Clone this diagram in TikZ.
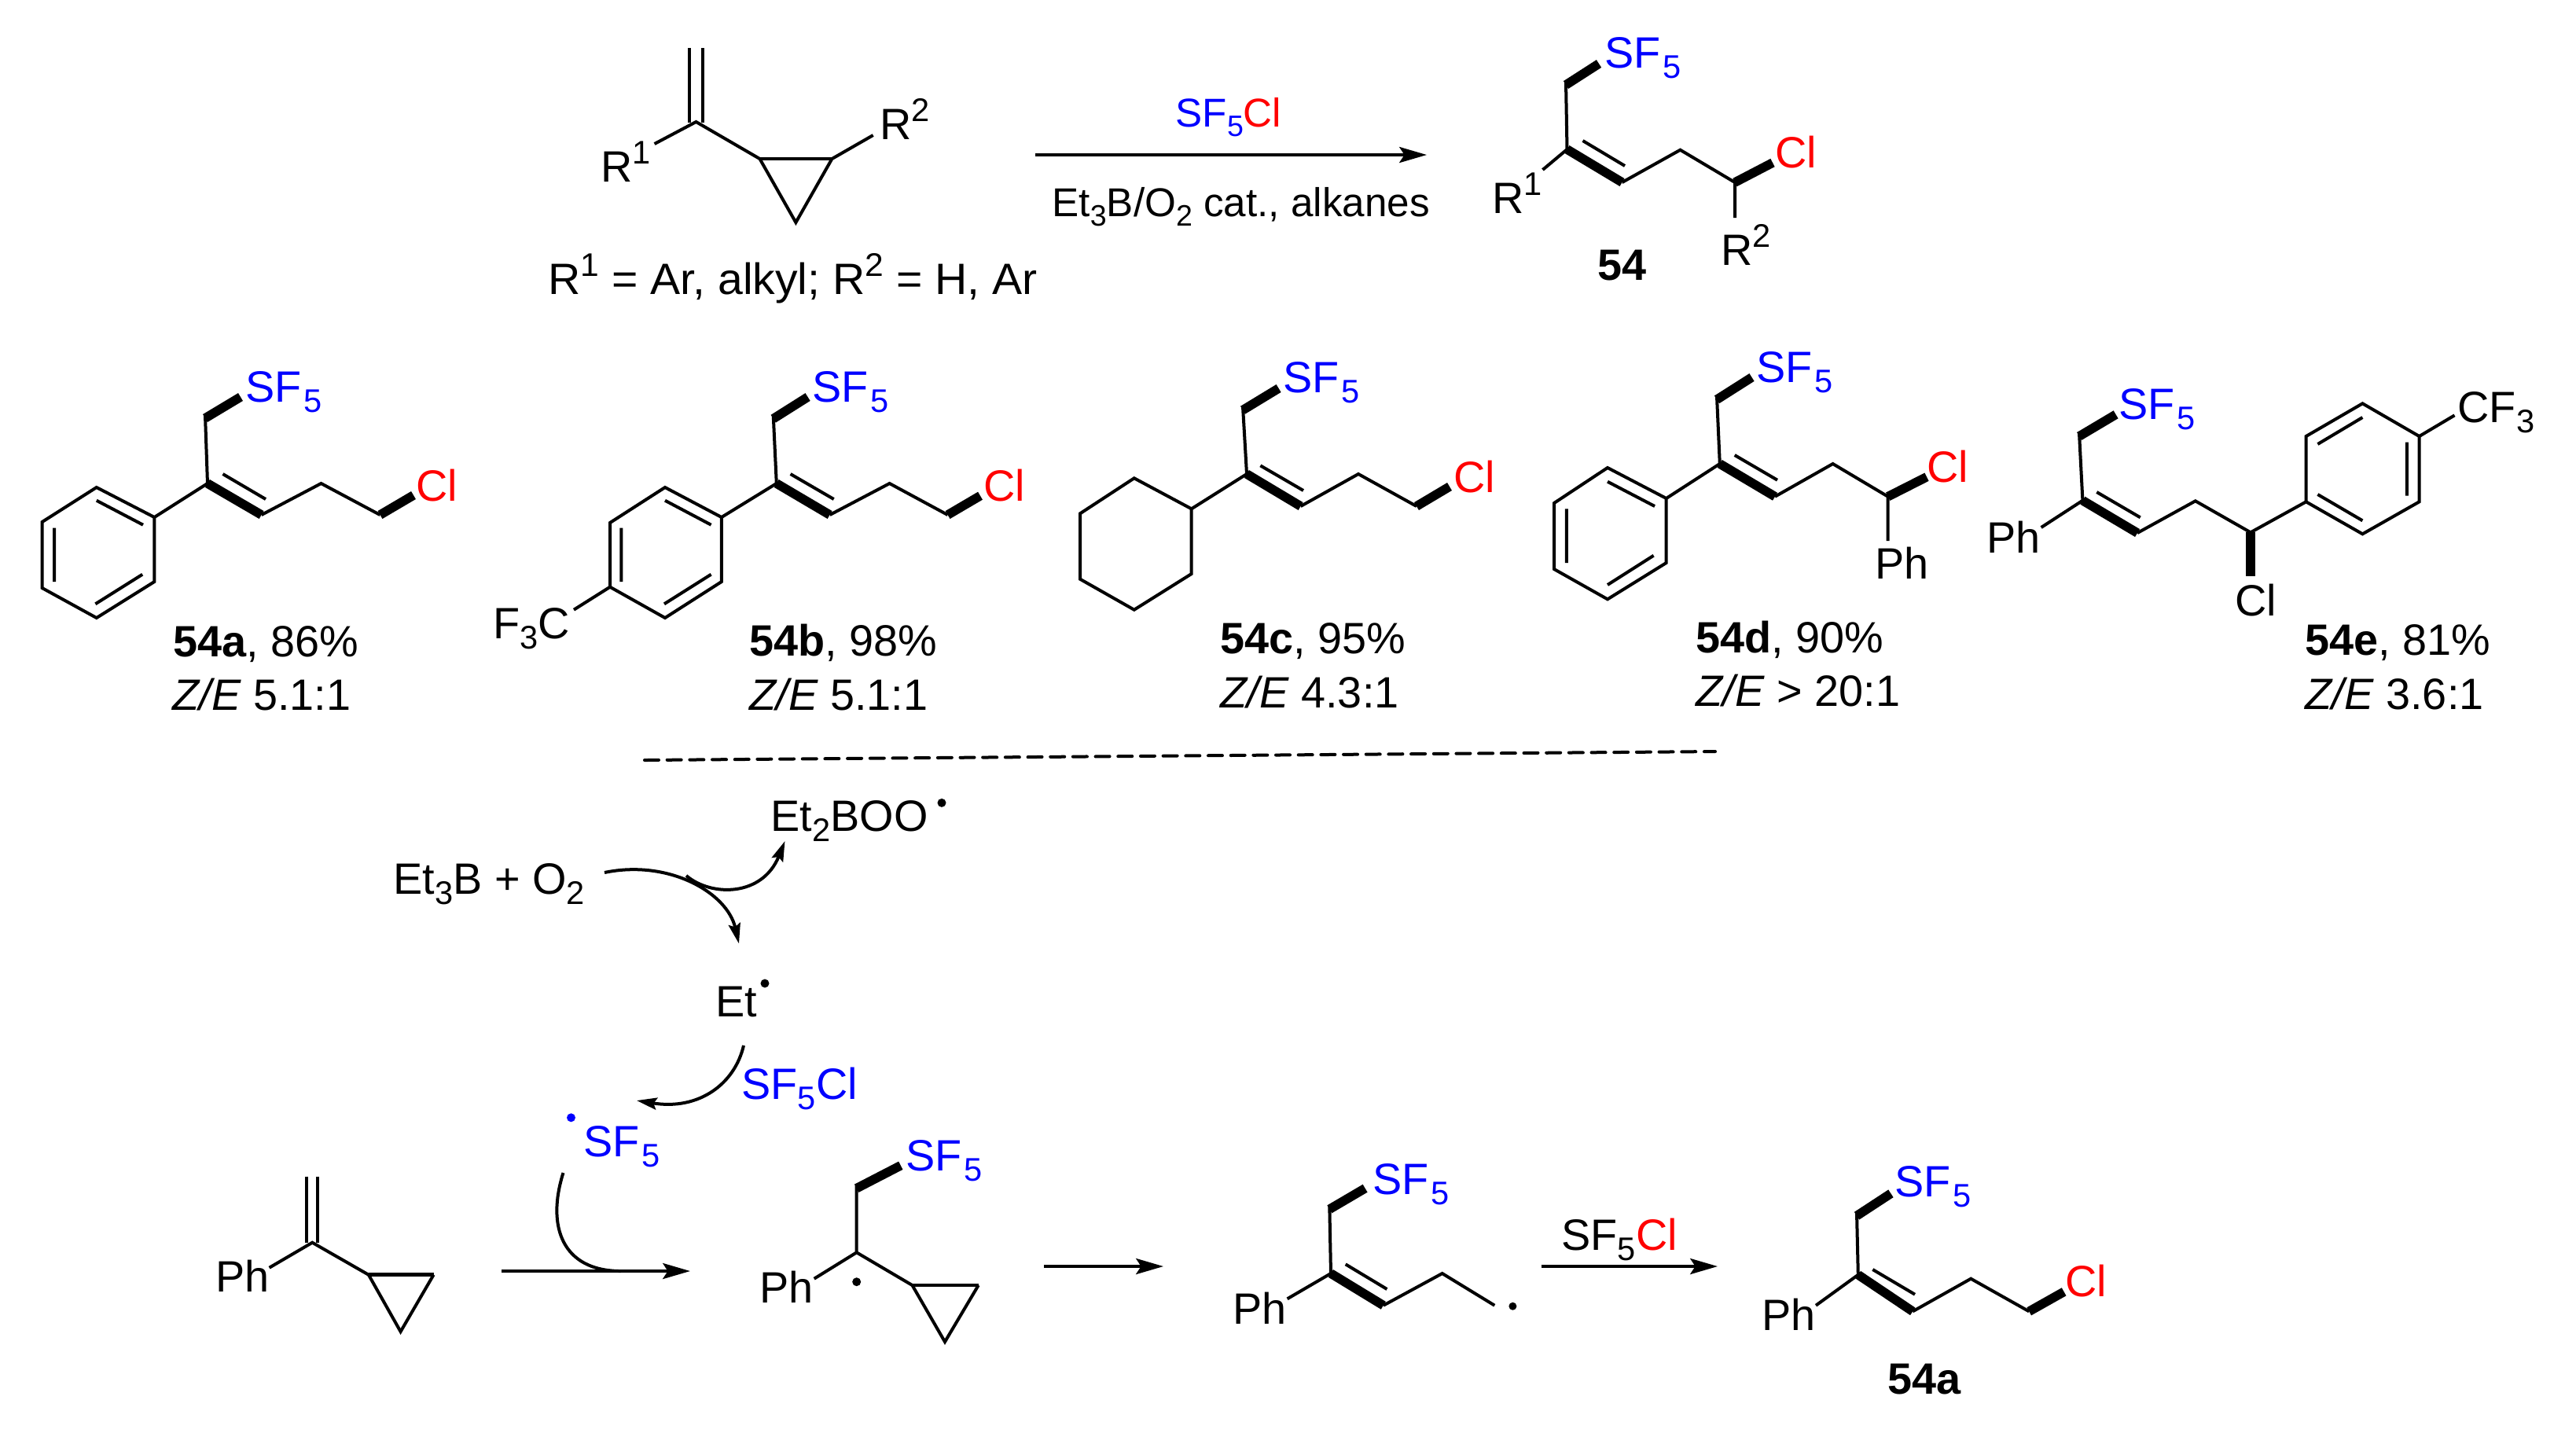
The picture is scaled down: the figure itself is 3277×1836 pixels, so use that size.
\documentclass[tikz,border=0pt]{standalone}
\usepackage{fontspec}
\usepackage{graphicx}
\setmainfont{Liberation Sans}
\usetikzlibrary{arrows.meta}
\definecolor{sfblue}{RGB}{0,0,255}
\definecolor{clred}{RGB}{255,0,0}
\newcommand\subsc[1]{\raisebox{-3.3pt}{\fontsize{10.4}{12}\selectfont #1}}
\newcommand\supsc[1]{\raisebox{5.7pt}{\fontsize{10.4}{12}\selectfont #1}}
\newcommand\subsm[1]{\raisebox{-3pt}{\fontsize{9.4}{11}\selectfont #1}}
\newcommand\sfive{\textcolor{sfblue}{SF\kern.6pt\subsc{5}}}
\newcommand\clr{\textcolor{clred}{Cl}}
\tikzset{
  lab/.style={anchor=base west,inner sep=0pt,outer sep=0pt,xshift=-.6pt,font=\fontsize{13.95}{16}\selectfont},
  smalllab/.style={lab,font=\fontsize{12.8}{15}\selectfont},
  bond/.style={line width=1pt,line join=miter,line cap=butt},
  boldbond/.style={line width=2.9pt,line cap=butt},
  ringtop/.style={line width=1.2pt},
  react/.style={line width=1pt,-{Stealth[length=8.7pt,width=5pt,inset=1.6pt]}},
  curly/.style={line width=1pt,-{Stealth[length=6.4pt,width=3.8pt,inset=1pt]}},
  radical/.style={fill=black,draw=none},
  dashline/.style={line width=1pt,dash pattern=on 4.5pt off 2.67pt,line cap=round}
}
\begin{document}
\begin{tikzpicture}[x=.25pt,y=-.25pt]
\useasboundingbox (0,0) rectangle (3277,1836);
% ---- general reaction
\draw[bond] (877,61)--(877,156) (894,61)--(894,156);
\draw[bond] (832.6,183)--(885.5,155)--(966.5,202)--(1012.4,283)--(1058.4,202)--(1110.7,172);
\draw[ringtop] (966.5,202)--(1058.4,202);
\node[lab] (r1a) at (767,231) {R\supsc{1}};
\node[lab] (r2a) at (1122,177) {R\supsc{2}};
\node[lab] (scope) at (700,374) {\scalebox{1.024}[1]{R\supsc{1} = Ar, alkyl; R\supsc{2} = H, Ar}};
\coordinate (a1s) at (1317,197); \coordinate (a1e) at (1815,197);
\draw[react] (a1s)--(a1e);
\node[smalllab] (a1t) at (1498,161) {\textcolor{sfblue}{SF\subsm{5}}\clr};
\node[smalllab] (a1b) at (1341,275) {Et\subsm{3}B/O\subsm{2} cat., alkanes};
% product 54
\draw[boldbond] (1992,108)--(2034,81);
\draw[bond] (1992,104)--(1993.5,190);
\draw[bond] (1962.5,216)--(1993.5,190);
\draw[boldbond] (1993.5,190)--(2063.5,232);
\draw[bond] (2013.5,179)--(2067,211);
\draw[bond] (2063.5,232)--(2137.5,190.7)--(2207,232)--(2207,277);
\draw[boldbond] (2207,232)--(2255,207);
\node[lab] (p54s) at (2044,86) {\sfive};
\node[lab] (p54c) at (2261,213) {\clr};
\node[lab] (p54r1) at (1901,271) {R\supsc{1}};
\node[lab] (p54r2) at (2192,337) {R\supsc{2}};
\node[lab] (p54) at (2035,356) {\textbf{54}};
% ---- 54a
\draw[boldbond] (261,532)--(306,505);
\draw[bond] (261,528)--(264,615)--(196.4,658)--(122.8,620)--(53.6,664)--(53.6,748)--(122.8,786)--(196.4,740)--(196.4,658);
\draw[boldbond] (264,615)--(332.6,655);
\draw[bond] (283.5,603)--(338,635);
\draw[bond] (332.6,655)--(408.5,615)--(483.5,655);
\draw[boldbond] (483.5,655)--(526,630);
\draw[bond] (122.8,636.7)--(182,667.7) (69.2,671.7)--(69.2,740) (121.4,768.3)--(181.2,730.7);
\node[lab] (a_s) at (315,511) {\sfive};
\node[lab] (a_c) at (532,637) {\clr};
\node[lab] (a_y) at (223,835) {\textbf{54a}, 86\%};
\node[lab] (a_z) at (222,903) {\textit{Z/E} 5.1:1};
% ---- 54b
\draw[boldbond] (983.7,532.7)--(1027.6,505);
\draw[bond] (983.7,528)--(987.8,615);
\draw[bond] (987.8,615)--(917.9,658)--(846,620)--(776,665)--(776,746.7)--(846,786)--(917.9,740)--(917.9,658);
\draw[boldbond] (987.8,615)--(1055.6,655);
\draw[bond] (1005.6,603)--(1060.7,635);
\draw[bond] (1055.6,655)--(1131.6,615)--(1205.6,655);
\draw[boldbond] (1205.6,655)--(1247,630.7);
\draw[bond] (846,636.7)--(904.6,667.7) (790.3,671.7)--(790.3,740) (845,768.3)--(904.6,730.7);
\draw[bond] (776,746.7)--(730,775.7);
\node[lab] (b_f) at (630,812) {F\subsc{3}C};
\node[lab] (b_s) at (1036,511) {\sfive};
\node[lab] (b_c) at (1254,637) {\clr};
\node[lab] (b_y) at (956,834) {\textbf{54b}, 98\%};
\node[lab] (b_z) at (956,903) {\textit{Z/E} 5.1:1};
% ---- 54c
\draw[boldbond] (1581,521.7)--(1626.6,494);
\draw[bond] (1581,517)--(1586,603)--(1515.7,647.3)--(1442.8,608.3)--(1374,653.3)--(1374,736.7)--(1442.8,775.7)--(1515.7,730)--(1515.7,647.3);
\draw[boldbond] (1586,603)--(1654.6,644);
\draw[bond] (1603.4,592.3)--(1658,624);
\draw[bond] (1654.6,644)--(1728,603)--(1802,644);
\draw[boldbond] (1802,644)--(1844,619);
\node[lab] (c_s) at (1635,499) {\sfive};
\node[lab] (c_c) at (1852,626) {\clr};
\node[lab] (c_y) at (1555,831) {\textbf{54c}, 95\%};
\node[lab] (c_z) at (1555,900) {\textit{Z/E} 4.3:1};
% ---- 54d
\draw[boldbond] (2184,508.3)--(2228.5,480);
\draw[bond] (2184,504)--(2187.8,590)--(2119.7,634)--(2045,595)--(1977,640)--(1977,724)--(2045,762.3)--(2119.7,716)--(2119.7,634);
\draw[boldbond] (2187.8,590)--(2258,631.7);
\draw[bond] (2206.7,579)--(2261,610.7);
\draw[bond] (2258,631.7)--(2331.6,590)--(2401.7,631.7)--(2401.7,688);
\draw[boldbond] (2401.7,631.7)--(2451,606.7);
\draw[bond] (2045,612.7)--(2105,644) (1992.8,647.3)--(1992.8,716) (2045,744)--(2103.6,706.7);
\node[lab] (d_s) at (2237,486) {\sfive};
\node[lab] (d_c) at (2454,613) {\clr};
\node[lab] (d_p) at (2388,736) {Ph};
\node[lab] (d_y) at (2160,830) {\textbf{54d}, 90\%};
\node[lab] (d_z) at (2160,898) {\textit{Z/E} > 20:1};
% ---- 54e
\draw[boldbond] (2645,555)--(2691.6,527.3);
\draw[bond] (2645,551)--(2649.4,636.7)--(2596.6,671);
\draw[boldbond] (2649.4,636.7)--(2719,678);
\draw[bond] (2667.3,626)--(2722.7,658.3);
\draw[bond] (2719,678)--(2792.8,637.3)--(2863,677.3)--(2933.6,638.3)--(2933.6,555)--(3005.4,513.3)--(3077.6,555)--(3077.6,638.3)--(3005.4,679.3)--(2933.6,638.3);
\draw[boldbond] (2863,677.3)--(2863,733);
\draw[bond] (2948.4,565)--(3005.4,531) (3061.8,562.7)--(3061.8,630.7) (2948.4,629)--(3005.4,662.3);
\draw[bond] (3077.6,555)--(3122.5,528.3);
\node[lab] (e_s) at (2698,533) {\sfive};
\node[lab] (e_p) at (2530,703) {Ph};
\node[lab] (e_c) at (2846,783) {Cl};
\node[lab] (e_f) at (3129,537) {CF\subsc{3}};
\node[lab] (e_y) at (2935,833) {\textbf{54e}, 81\%};
\node[lab] (e_z) at (2935,902) {\textit{Z/E} 3.6:1};
% ---- dashed divider
\coordinate (dv1) at (820,967); \coordinate (dv2) at (2182,956);
\draw[dashline] (dv1)--(dv2);
% ---- initiation
\node[lab] (boo) at (983,1057.5) {Et\subsc{2}BOO};
\fill[radical] (1198,1021.3) circle[radius=5.5];
\node[lab] (et3b) at (503,1137.7) {Et\subsc{3}B + O\subsc{2}};
\node[lab] (et) at (913,1293.4) {Et};
\fill[radical] (973,1251) circle[radius=5.5];
\coordinate (c1s) at (769,1110); \coordinate (c1e) at (940,1200.4);
\coordinate (c2s) at (873,1114); \coordinate (c2e) at (998.5,1070);
\draw[curly] (c1s) .. controls (850,1093) and (925,1135) .. (c1e);
\draw[curly] (c2s) .. controls (905,1141) and (970,1141) .. (c2e);
\coordinate (c3s) at (946,1330); \coordinate (c3e) at (810,1400);
\draw[curly] (c3s) .. controls (935,1378) and (890,1413) .. (c3e);
\node[lab] (sfcl) at (946,1398.4) {\textcolor{sfblue}{SF\subsc{5}Cl}};
\fill[sfblue] (726.5,1421.8) circle[radius=5.5];
\node[lab] (sfrad) at (745,1471.7) {\sfive};
% ---- substrate
\draw[bond] (390.3,1496.7)--(390.3,1581) (404.3,1496.7)--(404.3,1581);
\draw[bond] (342.6,1612.7)--(397.3,1580.7)--(468.9,1621.7)--(509.6,1694)--(551.6,1621.7);
\draw[ringtop] (468.9,1621.7)--(551.6,1621.7);
\node[lab] (ph1) at (277,1643) {Ph};
\coordinate (a2s) at (638,1617); \coordinate (a2e) at (878,1617);
\coordinate (c4s) at (716.5,1492); \coordinate (c4e) at (790,1617);
\draw[react] (a2s)--(a2e);
\draw[bond] (c4s) .. controls (695,1560) and (715,1617) .. (c4e);
% ---- intermediate 1
\draw[boldbond] (1089.7,1511.7)--(1145.8,1482.7);
\draw[bond] (1089.7,1507)--(1089.7,1593.3)--(1035.7,1626.7);
\draw[bond] (1089.7,1593.3)--(1160.5,1635)--(1202,1707)--(1244.7,1635);
\draw[ringtop] (1160.5,1635)--(1244.7,1635);
\fill[radical] (1089.7,1630.7) circle[radius=5.5];
\node[lab] (i1s) at (1155,1489) {\sfive};
\node[lab] (i1p) at (969,1657) {Ph};
\coordinate (a3s) at (1328,1611); \coordinate (a3e) at (1480,1611);
\draw[react] (a3s)--(a3e);
% ---- intermediate 2
\draw[boldbond] (1691.3,1538.3)--(1736.6,1511.7);
\draw[bond] (1691.3,1534)--(1693,1620)--(1637.6,1652.3);
\draw[boldbond] (1693,1620)--(1759.8,1660.7);
\draw[bond] (1711.7,1608.3)--(1764.4,1640);
\draw[bond] (1759.8,1660.7)--(1834.7,1620)--(1901.3,1660.7);
\fill[radical] (1924.4,1661.7) circle[radius=5];
\node[lab] (i2s) at (1749,1519) {\sfive};
\node[lab] (i2p) at (1571,1684) {Ph};
\coordinate (a4s) at (1960.5,1611); \coordinate (a4e) at (2185,1611);
\draw[react] (a4s)--(a4e);
\node[lab] (a4t) at (1989,1590) {SF\subsc{5}\clr};
% ---- final 54a
\draw[boldbond] (2362,1546.7)--(2405.4,1518.3);
\draw[bond] (2362,1542)--(2363.8,1621.7)--(2310,1660.7);
\draw[boldbond] (2363.8,1621.7)--(2433.2,1668.3);
\draw[bond] (2382.3,1615)--(2436,1646.7);
\draw[bond] (2433.2,1668.3)--(2507.2,1626.7)--(2581.2,1668.3);
\draw[boldbond] (2581.2,1668.3)--(2625.6,1643.3);
\node[lab] (f_s) at (2413,1522) {\sfive};
\node[lab] (f_c) at (2630,1649) {\clr};
\node[lab] (f_p) at (2244,1692) {Ph};
\node[lab] (f_n) at (2404,1773) {\textbf{54a}};
\end{tikzpicture}
\end{document}
